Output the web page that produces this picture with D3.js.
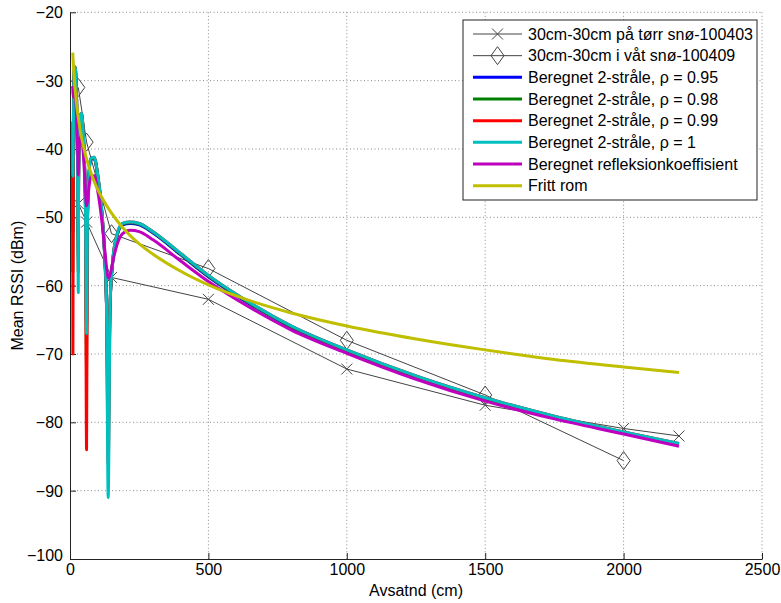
<!DOCTYPE html>
<html>
<head>
<meta charset="utf-8">
<script src="https://cdn.jsdelivr.net/npm/d3@7"></script>
<style>
  html, body { margin: 0; padding: 0; background: #fff; }
  svg text { font-family: "Liberation Sans", Arial, sans-serif; fill: #000; }
</style>
</head>
<body>
<svg id="chart" width="781" height="603"></svg>
<script>
// ---------------- data ----------------
const xTicks = [0, 500, 1000, 1500, 2000, 2500];
const yTicks = [-100, -90, -80, -70, -60, -50, -40, -30, -20];

// measured series
const dryDist = [30, 60, 150, 500, 1000, 1500, 2000, 2200];
const dryVals = [-48.0, -50.7, -58.8, -62.0, -72.2, -77.5, -80.9, -82.0];
const wetDist = [30, 60, 150, 500, 1000, 1500, 2000];
const wetVals = [-31.0, -39.0, -52.4, -57.5, -68.0, -76.0, -85.6];

// computed curves (shared distance grid)
const dist = [10, 10.5, 12, 14, 16, 19, 22, 25, 27, 30, 31, 34, 38, 42, 47, 52, 56, 59.8, 63, 68, 75, 87,
  100, 115, 125, 132, 138, 145, 155, 170, 190, 217, 250, 300, 400, 500, 650, 800, 1000, 1250, 1500, 1750, 2000, 2200];
const rho095 = [-36.2, -52.0, -38.0, -30.5, -28.3, -28.2, -30.4, -35.2, -41.1, -53.0, -44.8, -37.7, -35.1, -35.0, -37.2, -41.8, -49.0, -66.0, -50.7, -44.4, -41.6, -41.4,
  -43.9, -49.3, -55.4, -63.1, -75.0, -62.6, -56.3, -52.7, -51.1, -50.9, -51.1, -52.3, -55.5, -58.7, -62.7, -66.1, -69.6, -73.4, -76.6, -79.3, -81.6, -83.3];
const rho098 = [-36.1, -58.0, -37.9, -30.4, -28.2, -28.1, -30.3, -35.1, -41.0, -56.0, -44.7, -37.6, -35.0, -34.9, -37.1, -41.7, -48.9, -72.0, -50.6, -44.3, -41.5, -41.3,
  -43.8, -49.2, -55.3, -63.0, -82.0, -62.5, -56.2, -52.6, -51.0, -50.8, -51.0, -52.2, -55.4, -58.6, -62.6, -66.0, -69.5, -73.3, -76.5, -79.2, -81.5, -83.2];
const rho099 = [-36.0, -70.0, -37.8, -30.3, -28.1, -28.0, -30.2, -35.0, -40.9, -58.0, -44.6, -37.5, -34.9, -34.8, -37.0, -41.6, -48.8, -84.0, -50.5, -44.2, -41.4, -41.2,
  -43.7, -49.1, -55.2, -62.9, -86.0, -62.4, -56.1, -52.5, -50.9, -50.7, -50.9, -52.1, -55.3, -58.5, -62.5, -65.9, -69.4, -73.2, -76.4, -79.1, -81.4, -83.1];
const rho100 = [-36.0, -44.0, -37.8, -30.3, -28.1, -28.0, -30.2, -35.0, -40.9, -61.0, -44.6, -37.5, -34.9, -34.8, -37.0, -41.6, -48.8, -67.0, -50.5, -44.2, -41.4, -41.2,
  -43.7, -49.1, -55.2, -62.9, -91.0, -62.4, -56.1, -52.5, -50.9, -50.7, -50.9, -52.1, -55.3, -58.5, -62.5, -65.9, -69.4, -73.2, -76.4, -79.1, -81.4, -83.1];
const reflCoef = [-30.8, -31.5, -32.4, -31.9, -31.4, -31.8, -33.7, -36.8, -39.1, -43.8, -40.8, -39.4, -38.2, -38.4, -40.1, -43.3, -46.4, -48.3, -47.7, -45.8, -44.1, -43.9,
  -46.1, -50.5, -54.5, -57.3, -58.9, -58.4, -56.4, -54.0, -52.4, -51.9, -52.1, -53.3, -56.4, -59.4, -63.2, -66.5, -69.9, -73.7, -76.9, -79.5, -81.7, -83.5];

// free space
const fsDist = [10, 12, 14, 16, 19, 22, 25, 30, 38, 47, 60, 75, 87, 100, 125, 150, 190, 250, 300, 400, 500, 650, 800, 1000, 1250, 1500, 1750, 2000, 2200];
const fsVals = [-25.9, -27.5, -28.8, -30.0, -31.5, -32.75, -33.9, -35.4, -37.5, -39.3, -41.5, -43.4, -44.7, -45.9, -47.8, -49.4, -51.5, -53.9, -55.4, -57.9, -59.9, -62.2, -64.0, -65.9, -67.8, -69.4, -70.8, -71.9, -72.7];

const labels = [
  "30cm-30cm på tørr snø-100403",
  "30cm-30cm i våt snø-100409",
  "Beregnet 2-stråle, ρ = 0.95",
  "Beregnet 2-stråle, ρ = 0.98",
  "Beregnet 2-stråle, ρ = 0.99",
  "Beregnet 2-stråle, ρ = 1",
  "Beregnet refleksionkoeffisient",
  "Fritt rom"
];
const colors = ["#444444", "#444444", "#0000ff", "#008000", "#ff0000", "#00bfbf", "#bf00bf", "#bfbf00"];

// ---------------- layout ----------------
const svg = d3.select("#chart");
const L = 70, R = 762, T = 12.3, B = 559;
const x = d3.scaleLinear().domain([0, 2500]).range([L, R]);
const y = d3.scaleLinear().domain([-100, -20]).range([B, T]);

// grid
const grid = svg.append("g").attr("stroke", "#8a8a8a").attr("stroke-width", 1).attr("stroke-dasharray", "1,2.5");
grid.selectAll("line.vx").data(xTicks.slice(1)).join("line")
  .attr("x1", d => x(d)).attr("x2", d => x(d)).attr("y1", T).attr("y2", B);
grid.selectAll("line.hy").data(yTicks.slice(1)).join("line")
  .attr("x1", L).attr("x2", R).attr("y1", d => y(d)).attr("y2", d => y(d));

// axes
const xAxis = d3.axisBottom(x).tickValues(xTicks).tickSizeInner(-6).tickSizeOuter(0).tickPadding(6).tickFormat(d3.format("d"));
const yAxis = d3.axisLeft(y).tickValues(yTicks).tickSizeInner(-6).tickSizeOuter(0).tickPadding(7).tickFormat(d3.format("d"));
const gx = svg.append("g").attr("transform", `translate(0,${B})`).call(xAxis);
const gy = svg.append("g").attr("transform", `translate(${L},0)`).call(yAxis);
[gx, gy].forEach(g => {
  g.select(".domain").attr("stroke", "#222");
  g.selectAll(".tick line").attr("stroke", "#222");
  g.selectAll(".tick text").attr("font-size", 16).attr("font-family", "Liberation Sans, Arial, sans-serif").attr("fill", "#000");
});
gx.selectAll(".tick text").attr("dy", "0.62em");
gy.selectAll(".tick text").attr("dy", "0.35em");
gy.selectAll(".tick").filter(d => d === -100).select("text").attr("dy", "0.1em");

// axis titles
svg.append("text").attr("x", (L + R) / 2).attr("y", 596).attr("text-anchor", "middle").attr("font-size", 16).text("Avsatnd (cm)");
svg.append("text").attr("transform", `translate(23,${(T + B) / 2}) rotate(-90)`).attr("text-anchor", "middle").attr("font-size", 16).text("Mean RSSI (dBm)");

// plotting
const clip = svg.append("clipPath").attr("id", "clip").append("rect").attr("x", L).attr("y", T).attr("width", R - L).attr("height", B - T);
const plot = svg.append("g").attr("clip-path", "url(#clip)");

function pts(ds, vs) { return ds.map((d, i) => [d, vs[i]]); }
const lineLin = d3.line().x(d => x(d[0])).y(d => y(d[1]));
const lineSmooth = d3.line().x(d => x(d[0])).y(d => y(d[1])).curve(d3.curveMonotoneX);

const dry = pts(dryDist, dryVals), wet = pts(wetDist, wetVals);
plot.append("path").attr("d", lineLin(dry)).attr("fill", "none").attr("stroke", colors[0]).attr("stroke-width", 1);
plot.append("path").attr("d", lineLin(wet)).attr("fill", "none").attr("stroke", colors[1]).attr("stroke-width", 1);

function xMark(g, cx, cy, s) {
  g.append("path").attr("d", `M${cx - s},${cy - s}L${cx + s},${cy + s}M${cx - s},${cy + s}L${cx + s},${cy - s}`)
    .attr("stroke", "#444").attr("stroke-width", 1).attr("fill", "none");
}
function dMark(g, cx, cy, w, h) {
  g.append("path").attr("d", `M${cx},${cy - h}L${cx + w},${cy}L${cx},${cy + h}L${cx - w},${cy}Z`)
    .attr("stroke", "#444").attr("stroke-width", 1).attr("fill", "none");
}
dry.forEach(p => xMark(plot, x(p[0]), y(p[1]), 5.5));
wet.forEach(p => dMark(plot, x(p[0]), y(p[1]), 6.5, 9));

const curves = [rho095, rho098, rho099, rho100, reflCoef];
curves.forEach((vals, i) => {
  plot.append("path").attr("d", lineSmooth(pts(dist, vals))).attr("fill", "none")
    .attr("stroke", colors[i + 2]).attr("stroke-width", 3).attr("stroke-linejoin", "round");
});
plot.append("path").attr("d", lineSmooth(pts(fsDist, fsVals))).attr("fill", "none")
  .attr("stroke", colors[7]).attr("stroke-width", 3);

// legend
const lg = svg.append("g");
lg.append("rect").attr("x", 463).attr("y", 20).attr("width", 294).attr("height", 180).attr("fill", "#fff").attr("stroke", "#222").attr("stroke-width", 1);
labels.forEach((t, i) => {
  const ry = 34 + i * 21.67;
  lg.append("line").attr("x1", 473).attr("x2", 522).attr("y1", ry).attr("y2", ry)
    .attr("stroke", colors[i]).attr("stroke-width", i < 2 ? 1 : 3);
  if (i === 0) xMark(lg, 497.5, ry, 5.5);
  if (i === 1) dMark(lg, 497.5, ry, 6.5, 9);
  lg.append("text").attr("x", 528).attr("y", ry).attr("dy", "0.35em").attr("font-size", 16).text(t);
});
</script>
</body>
</html>
